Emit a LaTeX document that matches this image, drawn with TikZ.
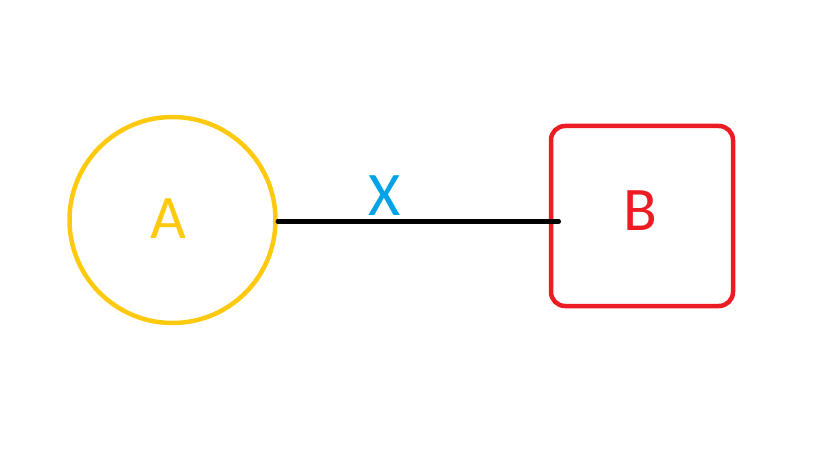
\documentclass[tikz,border=0pt]{standalone}
\usepackage{fontspec}
\setmainfont{Carlito}
\definecolor{pyellow}{HTML}{FFC90E}
\definecolor{pred}{HTML}{ED1C24}
\definecolor{pblue}{HTML}{00A2E8}
\begin{document}
\begin{tikzpicture}[x=1pt,y=-1pt,
  lbl/.style={font=\fontsize{62}{62}\selectfont, inner sep=0pt},
  circnode/.style={circle, draw=pyellow, line width=4.5pt, minimum size=206pt, inner sep=0pt, text=pyellow},
  boxnode/.style={rectangle, rounded corners=14pt, draw=pred, line width=4.5pt, minimum width=182pt, minimum height=180pt, inner sep=0pt, text=pred},
  conn/.style={line width=4.5pt, black, line cap=round}]
\fill[white] (0,0) rectangle (821,454);
\useasboundingbox (0,0) rectangle (821,454);
\node[circnode] (a) at (172.5,220) {};
\node[lbl, text=pyellow] (la) at (168,219) {A};
\node[boxnode] (b) at (642,216) {};
\node[lbl, text=pred] (lb) at (640,211) {B};
\coordinate (s) at ([yshift=-1.5pt]a.east);
\coordinate (e) at ([xshift=10pt]b.west);
\draw[conn] (s) -- (e |- s);
\node[lbl, text=pblue] (x) at (384.5,196) {X};
\end{tikzpicture}
\end{document}
